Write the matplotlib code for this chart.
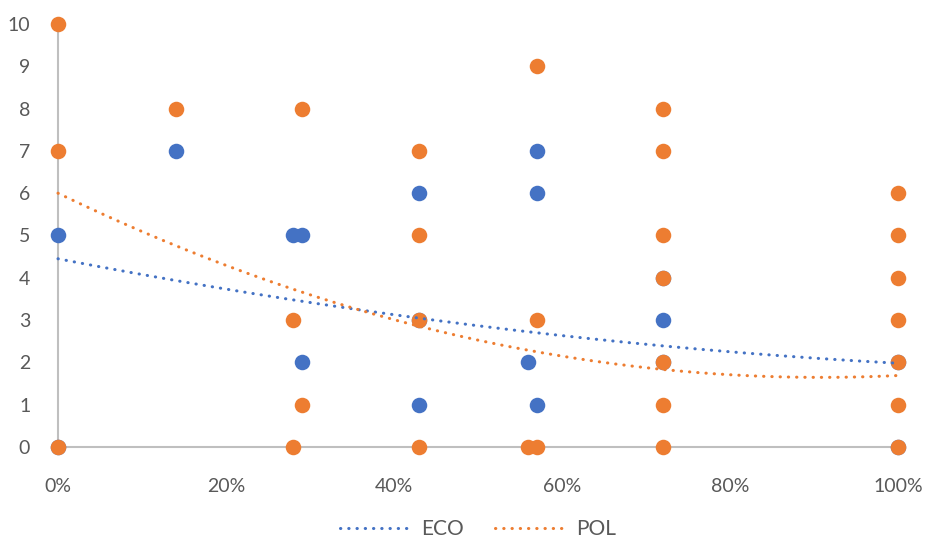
import matplotlib
matplotlib.use('Agg')
import matplotlib.pyplot as plt
import numpy as np

plt.rcParams['font.family'] = ['Lato', 'DejaVu Sans']

# share of the score (x) vs. rating (y)
eco_x = [0, 0, 0.14, 0.28, 0.29, 0.29, 0.43, 0.43, 0.43, 0.56, 0.57, 0.57, 0.57,
         0.72, 0.72, 0.72, 1.0, 1.0]
eco_y = [5, 0, 7, 5, 5, 2, 6, 3, 1, 2, 7, 6, 1,
         4, 3, 2, 2, 0]

pol_x = [0, 0, 0, 0.14, 0.28, 0.28, 0.29, 0.29, 0.43, 0.43, 0.43, 0.43,
         0.56, 0.57, 0.57, 0.57, 0.72, 0.72, 0.72, 0.72, 0.72, 0.72, 0.72,
         1.0, 1.0, 1.0, 1.0, 1.0, 1.0, 1.0]
pol_y = [10, 7, 0, 8, 3, 0, 8, 1, 7, 5, 3, 0,
         0, 9, 3, 0, 8, 7, 5, 4, 2, 1, 0,
         6, 5, 4, 3, 2, 1, 0]

# polynomial trendline coefficients (highest power first)
eco_trend = [1.395, -3.865, 4.45]
pol_trend = [5.275, -9.585, 6.0]

x_ticks = [0, 0.2, 0.4, 0.6, 0.8, 1.0]
x_labels = ['0%', '20%', '40%', '60%', '80%', '100%']
y_ticks = list(range(0, 11))

BLUE = '#4472C4'
ORANGE = '#ED7D31'
GRID = '#BFBFBF'
TEXT = '#595959'

fig = plt.figure(figsize=(9.26, 5.39), dpi=100)
ax = fig.add_axes([58 / 926, 92 / 539, 840 / 926, 423 / 539])

ax.scatter(eco_x, eco_y, s=125, color=BLUE, zorder=3, clip_on=False, linewidths=0)
ax.scatter(pol_x, pol_y, s=125, color=ORANGE, zorder=4, clip_on=False, linewidths=0)

xs = np.linspace(0, 1, 200)
dots = (0, (0.1, 2.6))
ax.plot(xs, np.polyval(eco_trend, xs), color=BLUE, lw=2.2, linestyle=dots,
        dash_capstyle='round', zorder=5, label='ECO', clip_on=False)
ax.plot(xs, np.polyval(pol_trend, xs), color=ORANGE, lw=2.2, linestyle=dots,
        dash_capstyle='round', zorder=5, label='POL', clip_on=False)

ax.set_xlim(0, 1)
ax.set_ylim(0, 10)
ax.set_xticks(x_ticks)
ax.set_xticklabels(x_labels)
ax.set_yticks(y_ticks)
ax.tick_params(length=0, labelsize=14, labelcolor=TEXT)
ax.tick_params(axis='x', pad=22)
ax.tick_params(axis='y', pad=20)

for side in ['top', 'right']:
    ax.spines[side].set_visible(False)
for side in ['left', 'bottom']:
    ax.spines[side].set_color(GRID)
    ax.spines[side].set_linewidth(1.5)

leg = fig.legend(loc='lower center', ncol=2, frameon=False, fontsize=15,
                 bbox_to_anchor=(0.516, -0.035), handlelength=3.4, handletextpad=0.5,
                 columnspacing=1.5)
for t in leg.get_texts():
    t.set_color(TEXT)

fig.savefig('out.png', dpi=100)
